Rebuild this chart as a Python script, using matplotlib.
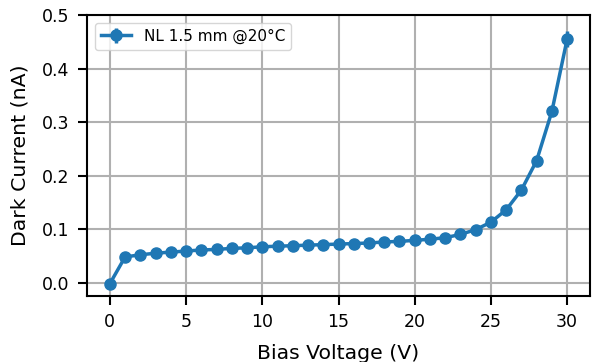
import matplotlib
matplotlib.use("Agg")
import matplotlib.pyplot as plt
import numpy as np

voltage = list(range(0, 31))
current = [-0.002, 0.048, 0.052, 0.055, 0.057, 0.059, 0.061, 0.062, 0.064, 0.065,
           0.067, 0.068, 0.069, 0.070, 0.071, 0.072, 0.073, 0.074, 0.076, 0.077,
           0.079, 0.081, 0.084, 0.090, 0.099, 0.113, 0.136, 0.173, 0.228, 0.320, 0.455]
current_err = [0.002] * 28 + [0.003, 0.008, 0.015]

plt.rcParams['font.size'] = 12
fig = plt.figure(figsize=(5.92, 3.62), dpi=100)
ax = fig.add_axes([87/592, 1 - 296/362, (590 - 87)/592, (296 - 15)/362])
ax.errorbar(voltage, current, yerr=current_err, marker='o', markersize=8,
            linewidth=2.5, color='#1f77b4', label='NL 1.5 mm @20°C')
ax.set_xlabel('Bias Voltage (V)', fontsize=14.7, labelpad=9)
ax.set_ylabel('Dark Current (nA)', fontsize=14.7, labelpad=9)
ax.set_ylim(-0.025, 0.5)
ax.set_xlim(-1.5, 31.5)
ax.set_xticks([0, 5, 10, 15, 20, 25, 30])
ax.set_yticks([0.0, 0.1, 0.2, 0.3, 0.4, 0.5])
ax.grid(True, color='#b0b0b0', linewidth=1.5)
ax.tick_params(labelsize=12.5, length=6.5, width=1.5, pad=6)
for s in ax.spines.values():
    s.set_linewidth(1.5)
ax.legend(loc='upper left', fontsize=11)
fig.savefig('out.png', dpi=100)
